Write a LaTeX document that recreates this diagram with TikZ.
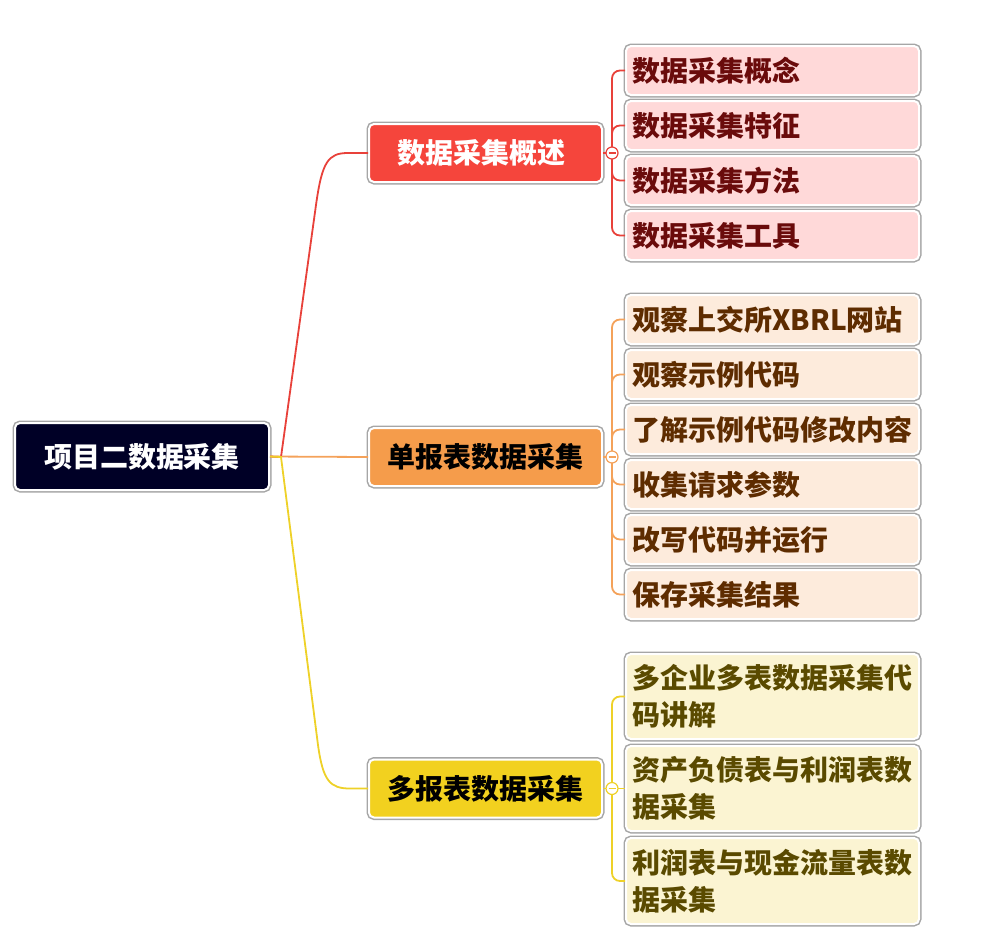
\documentclass[tikz,border=0pt]{standalone}
\usepackage{fontspec}
\setmainfont{Noto Sans CJK SC}
\definecolor{rootfill}{HTML}{000026}
\definecolor{bordergray}{HTML}{A6A6A6}
\definecolor{redfill}{HTML}{F5453C}
\definecolor{redline}{HTML}{E8413A}
\definecolor{orangefill}{HTML}{F59C4B}
\definecolor{orangeline}{HTML}{F4A25A}
\definecolor{yellowfill}{HTML}{F2D11F}
\definecolor{yellowline}{HTML}{EED128}
\definecolor{leafA}{HTML}{FFD9D9}
\definecolor{textA}{HTML}{6A0B0B}
\definecolor{leafB}{HTML}{FDEBDC}
\definecolor{textB}{HTML}{5E2C00}
\definecolor{leafC}{HTML}{FBF4D2}
\definecolor{textC}{HTML}{5A4A00}
\tikzset{
  box/.style={rounded corners=5pt, draw=white, line width=2pt,
    preaction={draw=bordergray, line width=5pt},
    font=\fontsize{28}{37}\selectfont\bfseries, inner sep=0pt},
  rootbox/.style={box, fill=rootfill, text=white, minimum width=254pt, minimum height=67pt},
  branchbox/.style={box, minimum width=233pt, minimum height=58pt},
  leafbox/.style={box, minimum width=293pt, text width=280pt, align=left, inner xsep=6.5pt},
  knob/.style={circle, draw, fill=white, line width=1.2pt, minimum size=12pt, inner sep=0pt,
    path picture={\draw[line width=1.2pt] ([xshift=-3.5pt]path picture bounding box.center) -- ([xshift=3.5pt]path picture bounding box.center);}},
  conn/.style={line width=1.8pt},
  bracket/.style={line width=1.8pt, rounded corners=8pt},
}
\begin{document}
\begin{tikzpicture}[x=1pt,y=-1pt]
\useasboundingbox (0,0) rectangle (991,943);
% root
\node[rootbox] (root) at (142,456.5) {项目二数据采集};
% branches
\node[branchbox, fill=redfill, text=white, text width=221pt, inner xsep=6pt, align=left] (b1) at (485.5,153) {\kern22pt 数据采集概述};
\node[branchbox, fill=orangefill, text=black] (b2) at (485.5,457) {单报表数据采集};
\node[branchbox, fill=yellowfill, text=black] (b3) at (485.5,788.5) {多报表数据采集};
% leaves group 1
\foreach \n/\y/\t in {1/70.5/数据采集概念, 2/125.5/数据采集特征, 3/180.5/数据采集方法, 4/235.5/数据采集工具}
  \node[leafbox, fill=leafA, text=textA, minimum height=49pt] (a\n) at (772.5,\y) {\t};
% leaves group 2
\foreach \n/\y/\t in {1/319.5/观察上交所XBRL网站, 2/374.5/观察示例代码, 3/429.5/了解示例代码修改内容, 4/484.5/收集请求参数, 5/539.5/改写代码并运行, 6/594.5/保存采集结果}
  \node[leafbox, fill=leafB, text=textB, minimum height=49pt] (o\n) at (772.5,\y) {\t};
% leaves group 3
\node[leafbox, fill=leafC, text=textC, minimum height=85pt] (y1) at (772.5,696.5) {多企业多表数据采集代\\码讲解};
\node[leafbox, fill=leafC, text=textC, minimum height=85pt] (y2) at (772.5,788.5) {资产负债表与利润表数\\据采集};
\node[leafbox, fill=leafC, text=textC, minimum height=86pt] (y3) at (772.5,881) {利润表与现金流量表数\\据采集};
% root connectors
\coordinate (hub) at (281,457);
\draw[conn, orangeline] (root.east) -- (b2.west);
\draw[conn, redline] (root.east) -- (hub) -- (316,205) .. controls (322,162) and (328,153) .. (348,153) -- (b1.west);
\draw[conn, yellowline] (root.east) -- (hub) -- (318,745) .. controls (323,781) and (330,788.5) .. (350,788.5) -- (b3.west);
% brackets
\draw[conn, redline] (b1.east) -- (612,153);
\foreach \n in {1,2} \draw[bracket, redline] (612,153) |- (a\n.west);
\foreach \n in {3,4} \draw[bracket, redline] (612,153) |- (a\n.west);
\draw[conn, orangeline] (b2.east) -- (612,457);
\foreach \n in {1,2,3} \draw[bracket, orangeline] (612,457) |- (o\n.west);
\foreach \n in {4,5,6} \draw[bracket, orangeline] (612,457) |- (o\n.west);
\draw[conn, yellowline] (b3.east) -- (612,788.5);
\draw[bracket, yellowline] (612,788.5) |- (y1.west);
\draw[conn, yellowline] (612,788.5) -- (y2.west);
\draw[bracket, yellowline] (612,788.5) |- (y3.west);
% knobs
\node[knob, draw=redline] (k1) at (612,153) {};
\node[knob, draw=orangeline] (k2) at (612,457) {};
\node[knob, draw=yellowline] (k3) at (612,788.5) {};
\end{tikzpicture}
\end{document}
